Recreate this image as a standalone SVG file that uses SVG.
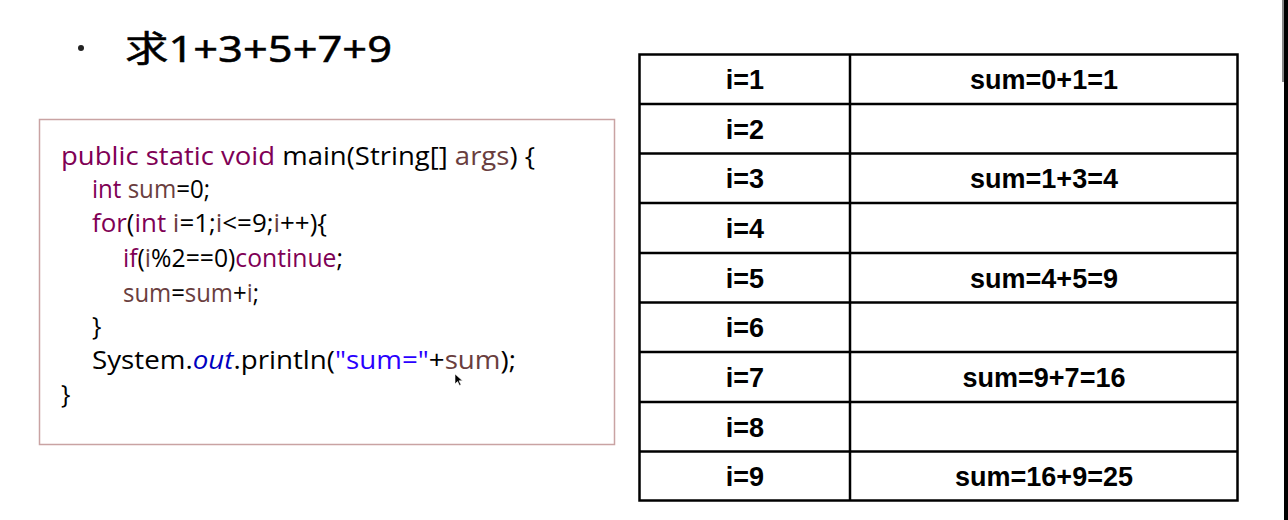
<svg xmlns="http://www.w3.org/2000/svg" width="1288" height="520" viewBox="0 0 1288 520">
<style>
.code{font-family:"Open Sans","Noto Sans",sans-serif;font-size:25px;fill:#000}
.kw{fill:#7f0055}
.v{fill:#6a3e3e}
.s{fill:#2a00ff}
.f{fill:#0000c0;font-style:italic}
.cell{font-family:"Liberation Sans",Arial,sans-serif;font-weight:bold;font-size:27px;fill:#000;text-anchor:middle}
.grid{stroke:#000;stroke-width:2.5;fill:none}
</style>
<rect width="1288" height="520" fill="#fff"/>
<g id="title">
<circle cx="81" cy="48" r="3" fill="#222"/>
<text x="125" y="62" font-family="'Noto Sans','Noto Sans CJK SC',sans-serif" font-size="36" fill="#000" stroke="#000" stroke-width="0.5" textLength="267" lengthAdjust="spacingAndGlyphs">求1+3+5+7+9</text>
</g>
<g id="code">
<rect x="39.5" y="119.5" width="575" height="325" fill="#fff" stroke="#c9a3a3" stroke-width="1.5"/>
<text class="code" x="61" y="165" textLength="474" lengthAdjust="spacingAndGlyphs"><tspan class="kw">public static void</tspan> main(String[] <tspan class="v">args</tspan>) {</text>
<text class="code" x="92" y="198" textLength="118" lengthAdjust="spacingAndGlyphs"><tspan class="kw">int</tspan> <tspan class="v">sum</tspan>=0;</text>
<text class="code" x="92" y="232" textLength="235" lengthAdjust="spacingAndGlyphs"><tspan class="kw">for</tspan>(<tspan class="kw">int</tspan> <tspan class="v">i</tspan>=1;<tspan class="v">i</tspan>&lt;=9;<tspan class="v">i</tspan>++){</text>
<text class="code" x="123" y="267" textLength="220" lengthAdjust="spacingAndGlyphs"><tspan class="kw">if</tspan>(<tspan class="v">i</tspan>%2==0)<tspan class="kw">continue</tspan>;</text>
<text class="code" x="123" y="302" textLength="136" lengthAdjust="spacingAndGlyphs"><tspan class="v">sum</tspan>=<tspan class="v">sum</tspan>+<tspan class="v">i</tspan>;</text>
<text class="code" x="92" y="335">}</text>
<text class="code" x="92" y="369" textLength="424" lengthAdjust="spacingAndGlyphs">System.<tspan class="f">out</tspan>.println(<tspan class="s">"sum="</tspan>+<tspan class="v">sum</tspan>);</text>
<text class="code" x="61" y="403">}</text>
<path d="M455 374 l0 10 l2.5 -2.5 l2 4 l1.5 -0.7 l-2 -4 l3.5 0 z" fill="#000" stroke="#fff" stroke-width="0.6"/>
</g>
<g id="table">
<rect class="grid" x="639.5" y="54.5" width="598" height="446"/>
<path class="grid" d="M850 54.5V500.5 M639.5 104H1237.5 M639.5 153.5H1237.5 M639.5 203H1237.5 M639.5 253H1237.5 M639.5 302.5H1237.5 M639.5 352H1237.5 M639.5 402H1237.5 M639.5 451.5H1237.5" stroke-width="2.2"/>
<text class="cell" x="745" y="89">i=1</text>
<text class="cell" x="1044" y="89">sum=0+1=1</text>
<text class="cell" x="745" y="139">i=2</text>
<text class="cell" x="745" y="188">i=3</text>
<text class="cell" x="1044" y="188">sum=1+3=4</text>
<text class="cell" x="745" y="238">i=4</text>
<text class="cell" x="745" y="288">i=5</text>
<text class="cell" x="1044" y="288">sum=4+5=9</text>
<text class="cell" x="745" y="337">i=6</text>
<text class="cell" x="745" y="387">i=7</text>
<text class="cell" x="1044" y="387">sum=9+7=16</text>
<text class="cell" x="745" y="437">i=8</text>
<text class="cell" x="745" y="486">i=9</text>
<text class="cell" x="1044" y="486">sum=16+9=25</text>
</g>
<g id="edge">
<rect x="1282" y="0" width="2" height="82" fill="#888"/>
<rect x="1284" y="0" width="4" height="520" fill="#000"/>
</g>
</svg>
